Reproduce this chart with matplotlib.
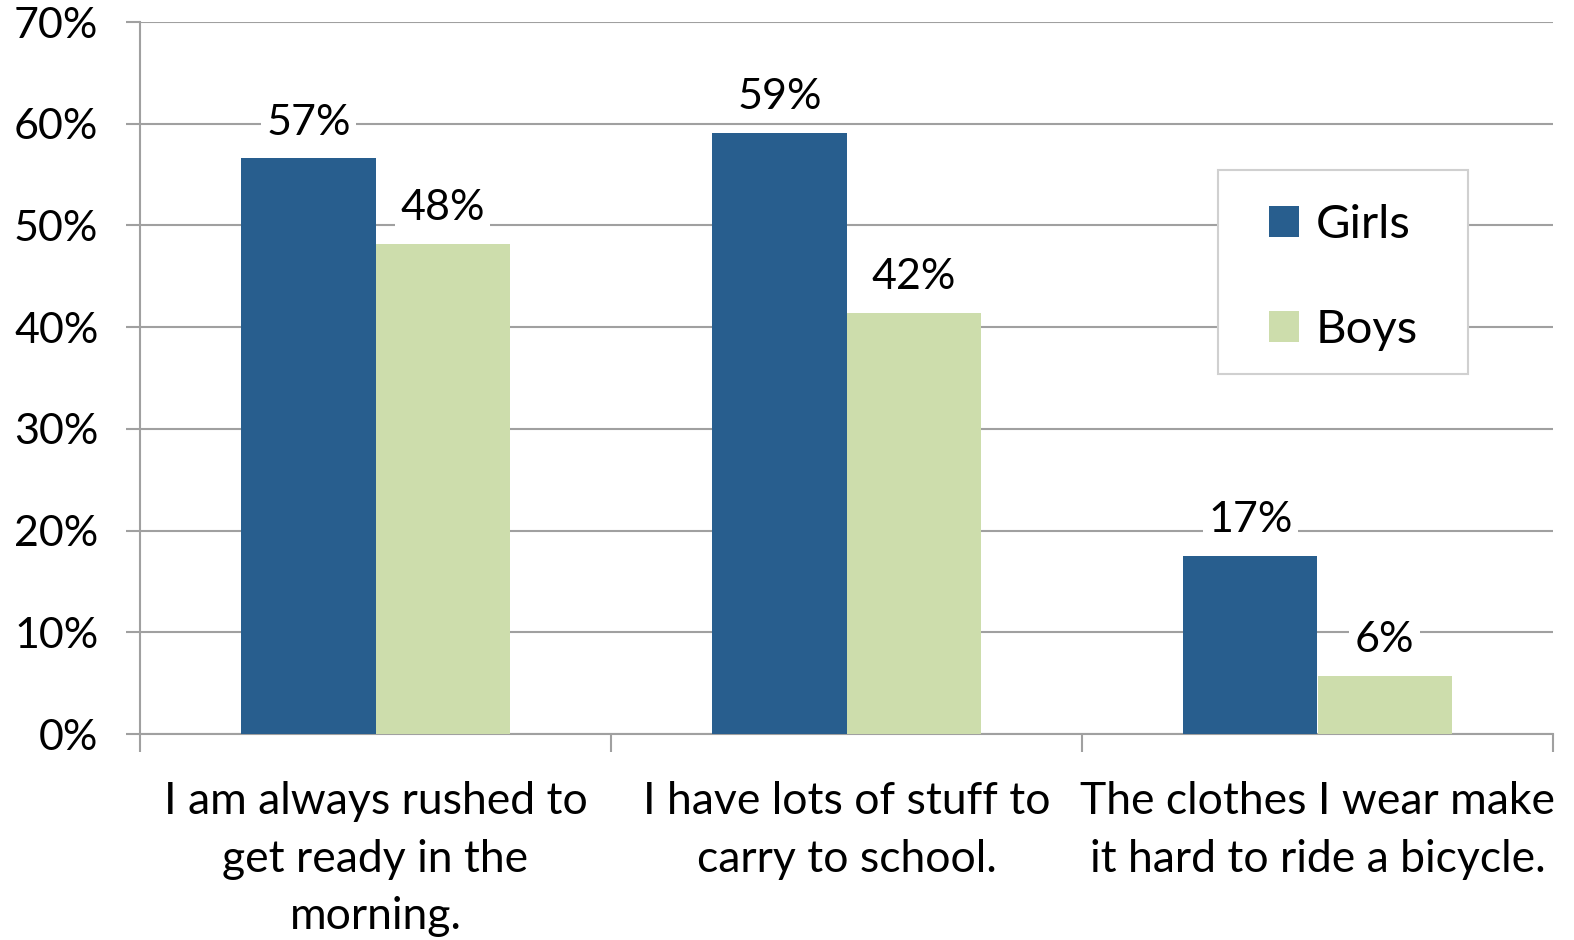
import matplotlib.pyplot as plt
from matplotlib.patches import Rectangle
import numpy as np

categories = ['I am always rushed to\nget ready in the\nmorning.',
              'I have lots of stuff to\ncarry to school.',
              'The clothes I wear make\nit hard to ride a bicycle.']
girls = [56.6, 59.1, 17.5]
boys = [48.2, 41.4, 5.7]
girls_labels = ['57%', '59%', '17%']
boys_labels = ['48%', '42%', '6%']
yticks = [0, 10, 20, 30, 40, 50, 60, 70]

plt.rcParams['font.family'] = ['Lato', 'DejaVu Sans']
fs = 31
grid_c = '#a0a0a0'

fig = plt.figure(figsize=(15.74, 9.4), dpi=100)
ax = fig.add_axes([140/1574, 1-734/940, 1413/1574, 712/940])

x = np.arange(len(categories))
w = 0.285
b1 = ax.bar(x - w/2, girls, w, color='#285e8e', label='Girls', zorder=3)
b2 = ax.bar(x + w/2, boys, w, color='#cdddac', label='Boys', zorder=3)

for bars, labs in ((b1, girls_labels), (b2, boys_labels)):
    for r, t in zip(bars, labs):
        ax.annotate(t, (r.get_x() + r.get_width()/2, r.get_height()),
                    xytext=(0, 12), textcoords='offset points',
                    ha='center', va='bottom', fontsize=fs, zorder=4,
                    bbox=dict(facecolor='white', edgecolor='none', pad=4))

ax.set_xlim(-0.5, 2.5)
ax.set_ylim(0, 70)
ax.set_yticks(yticks)
ax.set_yticklabels([f'{v}%' for v in yticks], fontsize=fs)
ax.yaxis.grid(True, color=grid_c, linewidth=1.5, zorder=0)
ax.tick_params(axis='y', length=10, width=1.5, color=grid_c, pad=20)

ax.set_xticks(x)
ax.set_xticklabels(categories, fontsize=32, linespacing=1.5)
ax.set_xticks([-0.5, 0.5, 1.5, 2.5], minor=True)
ax.tick_params(axis='x', which='major', length=0, pad=34)
ax.tick_params(axis='x', which='minor', length=13, width=1.5, color=grid_c)

for s in ['top', 'right']:
    ax.spines[s].set_visible(False)
for s in ['left', 'bottom']:
    ax.spines[s].set_color(grid_c)
    ax.spines[s].set_linewidth(1.5)

# legend frame drawn separately so padding can differ per side
ax.add_patch(Rectangle((0.763, 0.506), 0.177, 0.286, transform=ax.transAxes,
                       facecolor='white', edgecolor='#d0d0d0', linewidth=1.5,
                       zorder=5, clip_on=False))
leg = ax.legend(loc='center', bbox_to_anchor=(0.8515, 0.641), fontsize=34,
                frameon=False, handlelength=0.64, handleheight=0.64,
                labelspacing=1.35, borderpad=0, handletextpad=0.35)
leg.set_zorder(6)

fig.savefig('out.png', dpi=100)
